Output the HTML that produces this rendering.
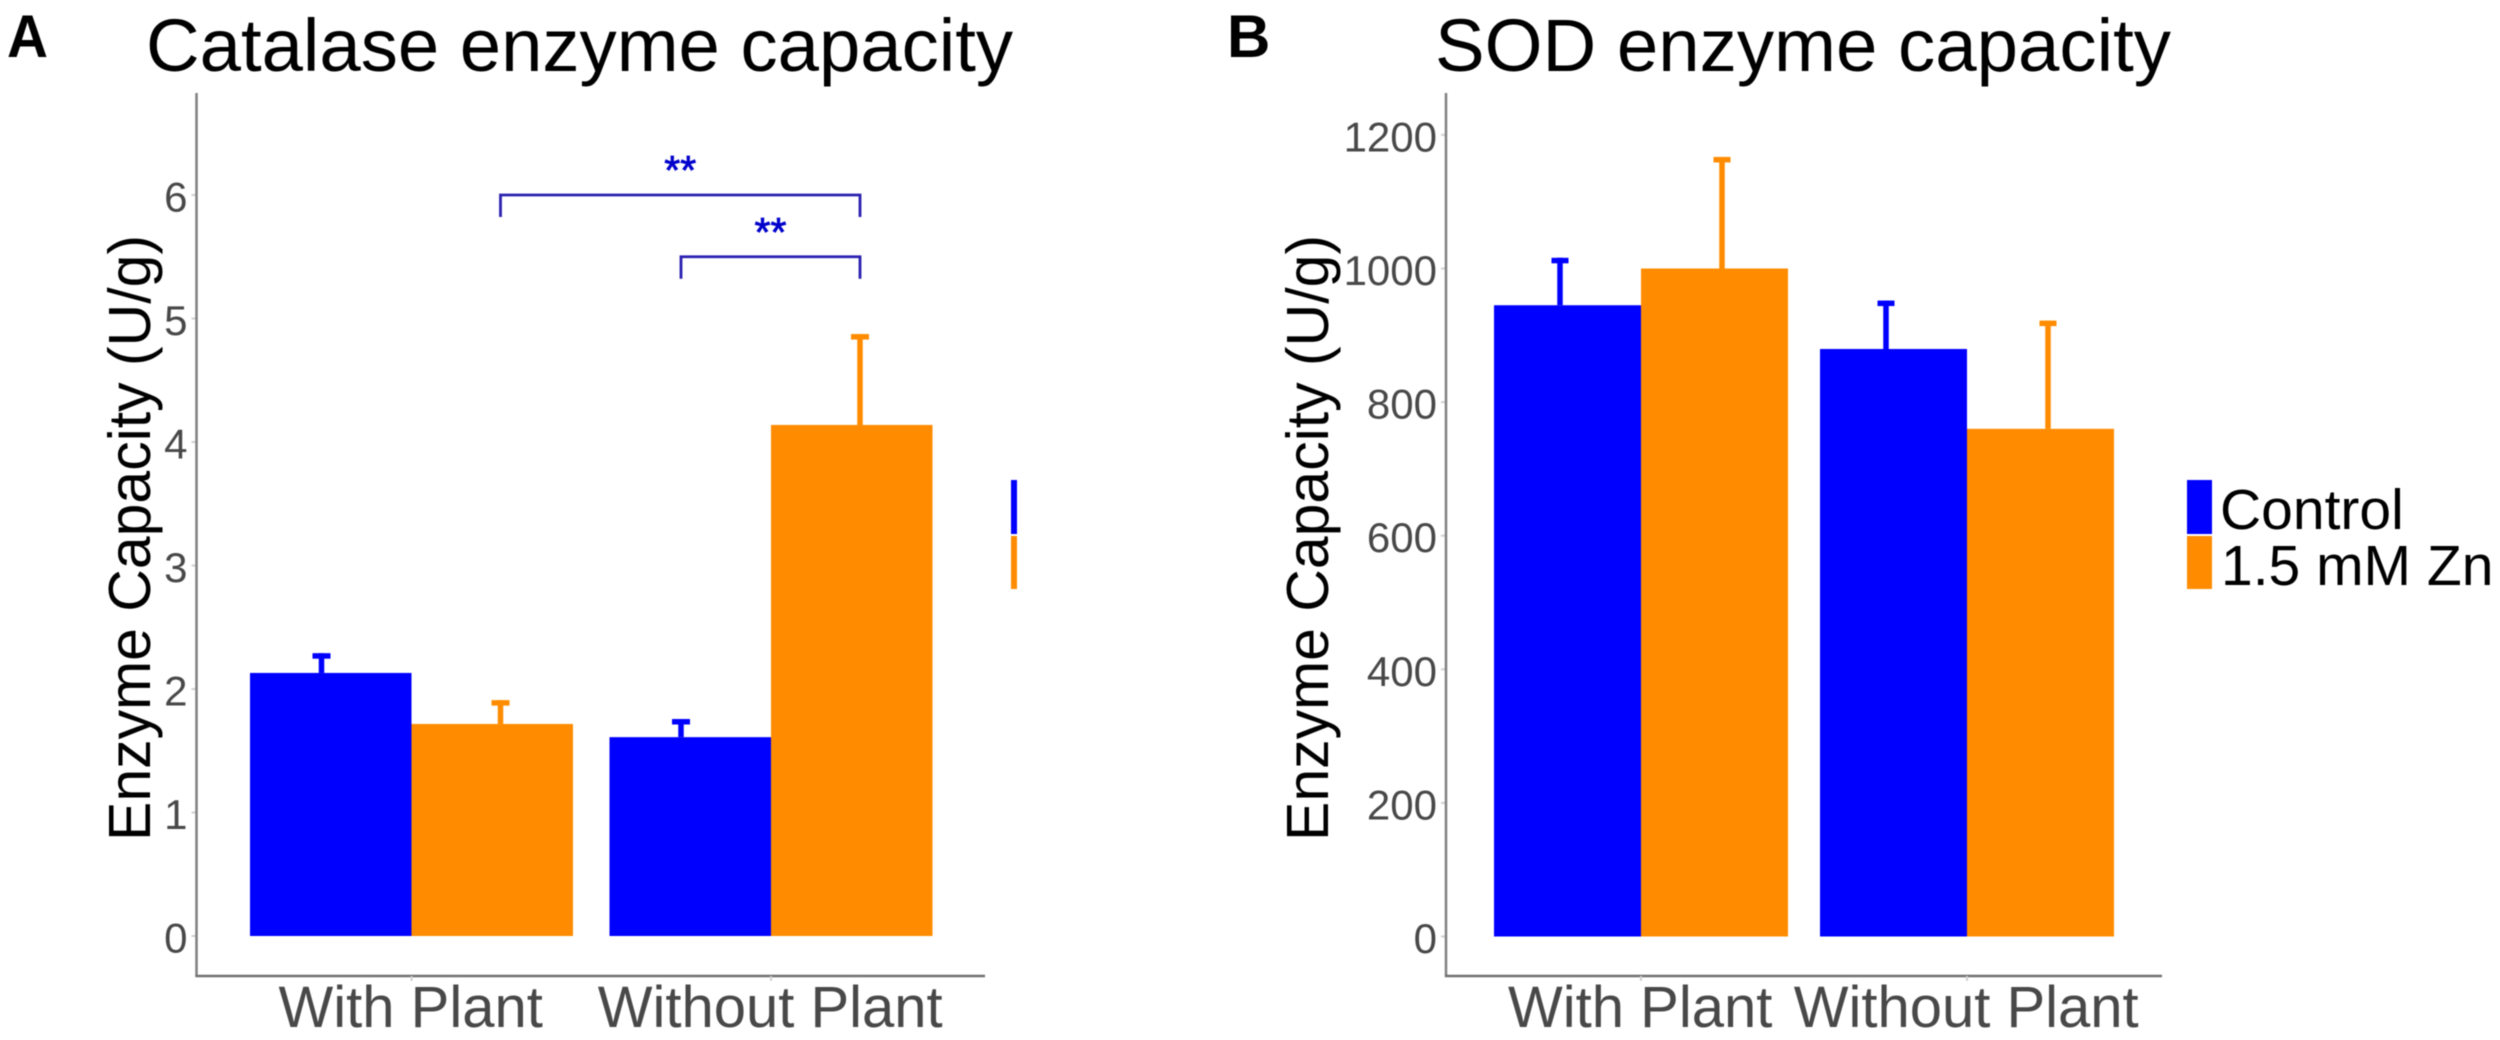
<!DOCTYPE html>
<html lang="en">
<head>
<meta charset="utf-8">
<title>Catalase and SOD enzyme capacity</title>
<style>
  html, body { margin: 0; padding: 0; background: #fff; }
  #figure { display: block; width: 2500px; height: 1040px; font-family: "Liberation Sans", Arial, sans-serif; overflow: hidden; filter: blur(0.5px); }
</style>
</head>
<body>
<svg id="figure" xmlns="http://www.w3.org/2000/svg" width="2500" height="1040" viewBox="0 0 2500 1040">
  <rect x="0" y="0" width="2500" height="1040" fill="#ffffff"/>
  <text x="7" y="57" font-size="60" font-weight="700" fill="#000" textLength="41" lengthAdjust="spacingAndGlyphs">A</text>
  <text x="1227" y="57" font-size="60" font-weight="700" fill="#000">B</text>
  <text x="146" y="71" font-size="74" fill="#000" textLength="867" lengthAdjust="spacingAndGlyphs">Catalase enzyme capacity</text>
  <text x="1435" y="71" font-size="74" fill="#000" textLength="736" lengthAdjust="spacingAndGlyphs">SOD enzyme capacity</text>
  <text transform="translate(150 841) rotate(-90)" font-size="59" fill="#000" textLength="606" lengthAdjust="spacingAndGlyphs">Enzyme Capacity (U/g)</text>
  <text transform="translate(1328 841) rotate(-90)" font-size="59" fill="#000" textLength="606" lengthAdjust="spacingAndGlyphs">Enzyme Capacity (U/g)</text>
  <g>
    <rect x="1011" y="480" width="6" height="54" fill="#0000ff"/>
    <rect x="1011" y="536" width="6" height="53" fill="#ff8c00"/>
  </g>
  <g>
    <rect x="2187" y="480" width="25" height="54" fill="#0000ff"/>
    <rect x="2187" y="536" width="25" height="53" fill="#ff8c00"/>
    <text x="2220" y="529" font-size="57" fill="#000">Control</text>
    <text x="2221" y="585" font-size="57" fill="#000">1.5 mM Zn</text>
  </g>
  <g id="panel-a"></g>
  <g id="panel-b"></g>
</svg>
<script>
const categories = ['With Plant', 'Without Plant'];
const catalaseControl = [2.13, 1.61];
const catalaseZinc = [1.717, 4.138];
const catalaseControlErrorTop = [2.29, 1.757];
const catalaseZincErrorTop = [1.91, 4.874];
const catalaseTicks = [0, 1, 2, 3, 4, 5, 6];
const sodControl = [945, 879.5];
const sodZinc = [1000, 760];
const sodControlErrorTop = [1016, 952];
const sodZincErrorTop = [1167, 922];
const sodTicks = [0, 200, 400, 600, 800, 1000, 1200];
const bracketStartCategory = [0, 1];
const bracketStartSeries = [1, 0];
const bracketEndCategory = [1, 1];
const bracketEndSeries = [1, 1];
const bracketLevels = [6, 5.5];
const bracketLabels = ['**', '**'];

const SVG_NS = 'http://www.w3.org/2000/svg';
const SERIES_COLORS = ['#0000ff', '#ff8c00'];
const SERIES_NAMES = ['control', 'zinc'];

function make(parent, tag, attrs) {
  const node = document.createElementNS(SVG_NS, tag);
  Object.keys(attrs).forEach(function (key) { node.setAttribute(key, attrs[key]); });
  parent.appendChild(node);
  return node;
}

function drawPanel(cfg) {
  const root = document.getElementById(cfg.id);
  const y = function (v) { return cfg.y0 - v * cfg.yUnit; };
  const center = function (i) { return cfg.firstCenter + i * cfg.groupStep; };
  const errorX = function (i, s) { return center(i) + (s === 0 ? -cfg.errorOffsetLeft : cfg.errorOffsetRight); };

  cfg.ticks.forEach(function (t) {
    const tick = make(root, 'line', { x1: cfg.axisX - 5, x2: cfg.axisX, y1: y(t), y2: y(t), stroke: '#d0d0d0', 'stroke-width': 2 });
    
    
    const label = make(root, 'text', { x: cfg.axisX - 9, y: y(t) + 16.5, 'font-size': 42, 'text-anchor': 'end', fill: '#484848' });
    label.textContent = String(t);
    
    
  });

  cfg.series.forEach(function (values, s) {
    values.forEach(function (v, i) {
      const left = s === 0 ? center(i) - cfg.barWidth : center(i);
      const bar = make(root, 'rect', { x: left, y: y(v), width: cfg.barWidth, height: y(0) - y(v), fill: SERIES_COLORS[s] });
      
      

      const top = cfg.errors[s][i];
      const stem = make(root, 'line', { x1: errorX(i, s), x2: errorX(i, s), y1: y(v), y2: y(top), stroke: SERIES_COLORS[s], 'stroke-width': cfg.errorWidth });
      
      
      const cap = make(root, 'rect', { x: errorX(i, s) - cfg.capWidth / 2, y: y(top), width: cfg.capWidth, height: 5.5, fill: SERIES_COLORS[s] });
      
      
    });
  });

  const yAxis = make(root, 'line', { x1: cfg.axisX, x2: cfg.axisX, y1: 93, y2: 977, stroke: '#808080', 'stroke-width': 2.5 });
  
  
  const xAxis = make(root, 'line', { x1: cfg.axisX - 1, x2: cfg.axisEnd, y1: 976, y2: 976, stroke: '#707070', 'stroke-width': 2.5 });
  
  

  categories.forEach(function (c, i) {
    const tick = make(root, 'line', { x1: center(i), x2: center(i), y1: 976, y2: 981, stroke: '#d0d0d0', 'stroke-width': 2 });
    
    
    const label = make(root, 'text', { x: center(i) - 0.8, y: 1027, 'font-size': 58, 'text-anchor': 'middle', fill: '#484848' });
    label.textContent = c;
    
    
  });

  if (cfg.brackets) {
    bracketLevels.forEach(function (level, b) {
      const x1 = errorX(bracketStartCategory[b], bracketStartSeries[b]);
      const x2 = errorX(bracketEndCategory[b], bracketEndSeries[b]);
      const yTop = y(level);
      const path = make(root, 'path', { d: 'M' + x1 + ' ' + (yTop + 22) + 'V' + yTop + 'H' + x2 + 'V' + (yTop + 22), fill: 'none', stroke: '#2a20b0', 'stroke-width': 2.8 });
      
      
      const stars = make(root, 'text', { x: (x1 + x2) / 2, y: yTop - 11, 'font-size': 41, 'text-anchor': 'middle', fill: '#0000cc', stroke: '#0000cc', 'stroke-width': 0.8 });
      stars.textContent = bracketLabels[b];
      
      
    });
  }
}

drawPanel({
  id: 'panel-a', prefix: 'catalase', y0: 936, yUnit: 123.5,
  axisX: 196.5, axisEnd: 985, firstCenter: 411.5, groupStep: 359.5,
  barWidth: 161.5, errorOffsetLeft: 90, errorOffsetRight: 89, errorWidth: 5.5, capWidth: 18,
  ticks: catalaseTicks,
  series: [catalaseControl, catalaseZinc],
  errors: [catalaseControlErrorTop, catalaseZincErrorTop],
  brackets: true
});

drawPanel({
  id: 'panel-b', prefix: 'sod', y0: 936.5, yUnit: 0.668,
  axisX: 1446, axisEnd: 2162, firstCenter: 1641, groupStep: 326,
  barWidth: 147, errorOffsetLeft: 81, errorOffsetRight: 81, errorWidth: 5.5, capWidth: 17,
  ticks: sodTicks,
  series: [sodControl, sodZinc],
  errors: [sodControlErrorTop, sodZincErrorTop],
  brackets: false
});
</script>
</body>
</html>
